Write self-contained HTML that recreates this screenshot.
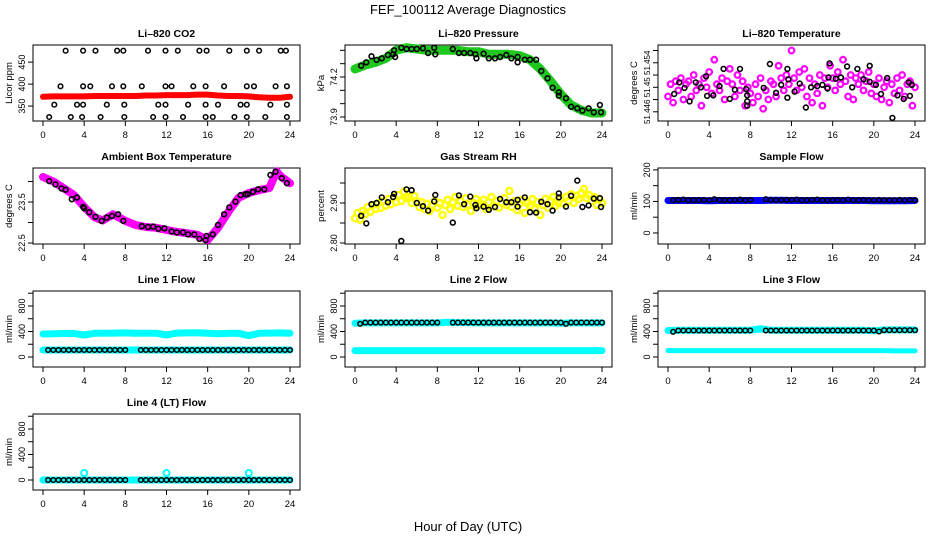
<!DOCTYPE html>
<html><head><meta charset="utf-8"><style>
html,body{margin:0;padding:0;background:#fff;}
svg{display:block;font-family:"Liberation Sans",sans-serif;}
</style></head><body>
<svg id="chart" width="936" height="540" viewBox="0 0 936 540">
<text x="468" y="14" text-anchor="middle" font-size="13">FEF_100112  Average Diagnostics</text>
<text x="468" y="531" text-anchor="middle" font-size="13">Hour of Day (UTC)</text>
</svg>
<script>
// ---------- data ----------
const hourTicks = [0,4,8,12,16,20,24];
const hourly = [0,1,2,3,4,5,6,7,8,9,10,11,12,13,14,15,16,17,18,19,20,21,22,23,24];

const co2Red = [371,372,372,372,372,373,373,373,373,373,374,374,375,375,375,376,376,374,373,373,372,370,369,369,371];
const co2BlackHours = [2.2,3.9,5.1,7.2,7.8,10.2,11.9,13.1,15.2,15.9,18.1,19.8,21.0,23.1,23.6,
 1.7,3.9,4.6,6.7,7.8,9.6,11.9,12.5,14.6,15.8,17.6,19.8,20.5,22.6,23.7,
 1.1,3.3,3.9,6.2,7.9,11.2,11.9,14.1,15.8,17.0,19.2,19.8,22.1,23.7,
 0.6,2.7,3.8,5.6,7.9,10.7,11.9,13.6,15.8,16.5,18.6,19.8,21.6,23.7];
const co2BlackVals = [476,476,476,476,476,476,476,476,476,476,476,476,476,476,476,
 395,395,395,395,395,395,395,395,395,395,395,395,395,395,395,
 353,353,353,353,353,353,353,353,353,353,353,353,353,353,
 325,325,325,325,325,325,325,325,325,325,325,325,325,325];

const presGreen = [74.26,74.29,74.31,74.34,74.40,74.42,74.41,74.40,74.40,74.40,74.40,74.39,74.39,74.37,74.37,74.37,74.36,74.33,74.26,74.17,74.07,73.99,73.95,73.93,73.93];
const presBlackHours = [0.6,1.1,1.6,2.1,2.6,3.2,3.7,3.8,3.9,4.5,5.0,5.5,6.0,6.6,7.1,7.7,7.8,9.5,10.1,10.6,11.2,11.7,11.8,12.5,13.0,13.6,14.1,14.7,15.2,15.8,15.8,16.5,17.0,17.6,18.1,18.7,19.2,19.8,19.8,20.5,21.0,21.6,22.1,22.7,23.2,23.8,23.9];
const presBlackVals = [74.285,74.31,74.355,74.328,74.34,74.365,74.37,74.40,74.35,74.42,74.41,74.41,74.41,74.415,74.38,74.42,74.37,74.41,74.38,74.38,74.38,74.37,74.34,74.375,74.34,74.34,74.35,74.365,74.34,74.35,74.31,74.33,74.33,74.33,74.245,74.19,74.12,74.085,74.06,74.04,73.977,73.965,73.948,73.965,73.935,73.99,73.935];

const tempHours = [];
for (let i = 0; i <= 96; i++) tempHours.push(i * 0.25);
const tempMagenta = [51.4485,51.4505,51.4475,51.451,51.4495,51.4515,51.448,51.4505,
 51.451,51.4485,51.452,51.4495,51.4505,51.447,51.4515,51.450,
 51.4525,51.449,51.4545,51.4505,51.4495,51.4515,51.448,51.451,
 51.453,51.4505,51.4485,51.452,51.4495,51.451,51.447,51.450,
 51.449,51.4475,51.4505,51.4485,51.4515,51.4465,51.4495,51.448,
 51.451,51.4505,51.4485,51.4535,51.4515,51.4495,51.452,51.4505,
 51.456,51.4515,51.4495,51.4525,51.450,51.453,51.4485,51.4515,
 51.4475,51.4505,51.449,51.452,51.447,51.4515,51.450,51.4535,
 51.4515,51.4495,51.4525,51.4505,51.4545,51.451,51.4485,51.452,
 51.448,51.4515,51.4505,51.452,51.4495,51.451,51.4525,51.449,
 51.4505,51.4485,51.4515,51.448,51.450,51.451,51.4475,51.4505,
 51.449,51.4515,51.4495,51.452,51.4485,51.4505,51.451,51.447,51.450];
const tempBlackHours = [0.6,1.1,1.6,2.1,2.7,3.2,3.7,3.8,4.4,5.0,5.4,6.0,6.5,7.0,7.6,7.7,7.7,7.7,9.3,9.9,10.5,11.0,11.6,11.6,11.7,12.3,12.8,13.4,13.9,14.5,15.0,15.5,15.7,15.6,16.3,16.8,17.4,17.9,18.4,19.0,19.6,19.6,20.2,20.7,21.3,21.8,22.3,22.9,23.4,23.5,23.7];
const tempBlackVals = [51.4489,51.4508,51.4499,51.4477,51.4508,51.4500,51.4518,51.4486,51.4487,51.4502,51.4530,51.4481,51.4496,51.4530,51.4497,51.4487,51.4477,51.4470,51.4499,51.4538,51.4491,51.4504,51.4483,51.4530,51.4513,51.4493,51.4506,51.4467,51.4500,51.4502,51.4504,51.4498,51.4539,51.4516,51.4514,51.4516,51.4534,51.4500,51.4530,51.4513,51.4509,51.4535,51.4504,51.4489,51.4515,51.4450,51.4487,51.4481,51.4508,51.4486,51.4504];

const ambHours = [0,1,2,3,4,5,5.8,6.8,8,9,10,11,12,13,14,15,16,17,18,19,20,21,22,22.7,23,24];
const ambMagenta = [24.11,24.0,23.84,23.67,23.38,23.13,23.05,23.2,23.04,22.94,22.89,22.87,22.82,22.77,22.74,22.70,22.57,22.87,23.26,23.6,23.72,23.79,23.84,24.25,24.15,23.96];
const ambBlackHours = [0.6,1.2,1.8,2.2,2.8,3.3,3.9,4.0,4.5,5.1,5.7,6.2,6.7,7.3,7.8,9.6,10.2,10.7,11.2,11.8,12.5,13.0,13.6,14.1,14.7,15.2,15.8,15.9,16.5,17.0,17.6,18.1,18.7,19.2,19.7,19.9,20.4,20.9,21.5,22.1,22.6,23.2,23.7];
const ambBlackVals = [24.01,23.93,23.83,23.80,23.57,23.61,23.38,23.35,23.25,23.14,23.04,23.12,23.16,23.20,23.04,22.91,22.89,22.90,22.85,22.86,22.78,22.76,22.76,22.71,22.71,22.60,22.57,22.67,22.71,22.94,23.20,23.37,23.51,23.67,23.69,23.69,23.75,23.81,23.81,24.16,24.24,24.08,23.96];

const rhYellow = [2.862,2.875,2.858,2.880,2.872,2.890,2.878,2.895,2.885,
 2.900,2.888,2.905,2.893,2.910,2.897,2.915,2.902,
 2.920,2.905,2.928,2.912,2.915,2.900,2.918,2.905,
 2.890,2.902,2.885,2.898,2.880,2.895,2.905,2.888,
 2.900,2.870,2.895,2.908,2.885,2.902,2.915,2.893,
 2.905,2.890,2.912,2.895,2.880,2.900,2.910,2.893,
 2.898,2.908,2.885,2.902,2.915,2.892,2.905,2.888,
 2.900,2.912,2.895,2.930,2.890,2.905,2.882,2.898,
 2.908,2.875,2.900,2.893,2.910,2.885,2.902,2.870,
 2.895,2.910,2.888,2.905,2.915,2.893,2.900,2.912,
 2.898,2.915,2.905,2.922,2.900,2.918,2.910,2.925,
 2.935,2.912,2.920,2.905,2.915,2.895,2.910,2.900];
const rhBlackHours = [0.6,1.1,1.6,2.1,2.6,3.2,3.7,3.8,5.0,5.5,6.0,6.6,7.1,7.7,7.8,9.5,10.1,10.6,11.2,11.7,11.8,12.5,13.0,13.6,14.1,14.7,15.2,15.8,15.8,16.5,17.0,17.6,18.1,18.7,19.2,19.8,19.8,20.5,21.0,21.6,22.1,22.7,23.2,23.8,23.9,4.5];
const rhBlackVals = [2.868,2.849,2.897,2.900,2.914,2.902,2.915,2.923,2.934,2.932,2.900,2.892,2.881,2.904,2.920,2.851,2.919,2.897,2.916,2.895,2.887,2.891,2.883,2.890,2.910,2.902,2.902,2.908,2.891,2.914,2.877,2.876,2.903,2.897,2.881,2.924,2.914,2.891,2.918,2.956,2.890,2.894,2.911,2.912,2.890,2.805];

const flowHours = [0.5,1,1.5,2,2.5,3,3.5,4,4.5,5,5.5,6,6.5,7,7.5,8,9.5,10,10.5,11,11.5,12,12.5,13,13.5,14,14.5,15,15.5,16,16.5,17,17.5,18,18.5,19,19.5,20,20.5,21,21.5,22,22.5,23,23.5,24];
const sampleBlue = [103,103,103,103,102,103,103,103,103,103,104,104,103,103,103,103,103,103,103,103,102,102,102,102,103];
const sampleBlack = [104,105,106,104,104,104,105,104,107,105,104,104,105,106,104,105,107,105,104,104,105,105,106,104,104,105,106,104,104,104,105,104,106,104,104,105,104,104,105,104,104,104,105,104,105,104];
const line1Upper = [360,365,368,370,345,372,372,375,378,373,372,373,345,375,378,380,372,365,370,372,335,372,375,378,373];
const line1Lower = [110,110,110,110,110,110,110,110,110,110,110,110,110,110,110,110,110,110,110,110,110,110,110,110,110];
const line1Black = [110,110,110,110,110,110,110,110,110,110,110,110,110,110,110,110,110,110,110,110,110,110,110,110,110,110,110,110,110,110,110,110,110,110,110,110,110,110,110,110,110,110,110,110,110,110];
const line2Upper = [530,535,535,535,535,535,535,535,535,545,540,540,535,535,535,535,535,535,535,535,530,535,535,535,535];
const line2Lower = [100,100,100,100,100,100,100,100,100,100,100,100,100,100,100,100,100,100,100,100,100,100,100,100,100];
const line2Black = [520,540,540,540,540,540,540,540,540,540,540,540,540,540,540,540,540,540,540,540,540,540,540,540,540,540,540,540,540,540,540,540,540,540,540,540,540,540,520,540,540,540,540,540,540,540];
const line3Upper = [415,420,420,420,420,420,420,420,420,440,420,420,420,420,420,420,420,420,420,420,410,425,425,425,425];
const line3Lower = [100,100,100,100,100,100,100,100,100,100,100,100,100,100,100,100,100,100,100,100,100,100,95,95,95];
const line3Black = [395,415,415,415,415,415,415,415,415,415,415,415,415,415,415,415,415,415,415,415,415,415,415,415,415,415,415,415,415,415,415,415,415,415,415,415,415,415,400,420,420,420,420,420,420,420];
const line4Cyan = [0,0,0,0,0,0,0,0,0,0,0,0,0,0,0,0,0,0,0,0,0,0,0,0,0];
const line4Black = [0,0,0,0,0,0,0,0,0,0,0,0,0,0,0,0,0,0,0,0,0,0,0,0,0,0,0,0,0,0,0,0,0,0,0,0,0,0,0,0,0,0,0,0,0,0];
const line4OutHours = [4,12,20];
const line4OutVals = [110,110,110];

// ---------- drawing ----------
const NS = 'http://www.w3.org/2000/svg';
const svg = document.getElementById('chart');
const COLS = [33,345,658], ROWS = [45,168,291,414], W = 267, H = 76;
const flowTicks = [0,200,400,600,800,1000], flowLabels = ['0','','400','','800',''];

function mk(tag, attrs, parent) {
  const e = document.createElementNS(NS, tag);
  for (const k in attrs) e.setAttribute(k, attrs[k]);
  (parent || svg).appendChild(e);
  return e;
}

function panel(key, title, col, row, dom, ticks, labels, ylab, tickFont) {
  const left = COLS[col], top = ROWS[row], bottom = top + H;
  const g = mk('g', {});
  
  
  const xs = h => left + 10 + h * (W - 20) / 24;
  const ys = v => bottom - (v - dom[0]) / (dom[1] - dom[0]) * H;
  const t = mk('text', {x: left + W / 2, y: top - 8, 'text-anchor': 'middle', 'font-size': 10.5, 'font-weight': 'bold'}, g);
  t.textContent = title;
  
  
  const box = mk('rect', {x: left, y: top, width: W, height: H, fill: 'none', stroke: '#000', 'stroke-width': 1}, g);
  
  
  const xa = mk('g', {}, g);
  
  
  hourTicks.forEach(h => {
    mk('line', {x1: xs(h), x2: xs(h), y1: bottom, y2: bottom + 5, stroke: '#000'}, xa);
    const l = mk('text', {x: xs(h), y: bottom + 17, 'text-anchor': 'middle', 'font-size': 9.5}, xa);
    l.textContent = h;
  });
  const ya = mk('g', {}, g);
  
  
  ticks.forEach((v, i) => {
    mk('line', {x1: left - 5, x2: left, y1: ys(v), y2: ys(v), stroke: '#000'}, ya);
    if (labels[i]) {
      const l = mk('text', {x: left - 8, y: ys(v), 'text-anchor': 'middle', 'font-size': tickFont || 9, transform: `rotate(-90 ${left - 8} ${ys(v)})`}, ya);
      l.textContent = labels[i];
    }
  });
  const yt = mk('text', {x: left - 21, y: top + H / 2, 'text-anchor': 'middle', 'font-size': 9.5, transform: `rotate(-90 ${left - 21} ${top + H / 2})`}, g);
  yt.textContent = ylab;
  
  
  const marks = mk('g', {}, g);
  
  
  return {
    band(hours, vals, color, width) {
      const pts = hours.map((h, i) => xs(h).toFixed(1) + ',' + ys(vals[i]).toFixed(1)).join(' ');
      const p = mk('polyline', {points: pts, fill: 'none', stroke: color, 'stroke-width': width, 'stroke-linejoin': 'round', 'stroke-linecap': 'round'}, marks);
      
      
    },
    pts(hours, vals, color, r, sw) {
      hours.forEach((h, i) => {
        const c = mk('circle', {cx: xs(h).toFixed(1), cy: ys(vals[i]).toFixed(1), r: r, fill: 'none', stroke: color, 'stroke-width': sw}, marks);
        
        
      });
    }
  };
}

let p;
p = panel('co2', 'Li–820 CO2', 0, 0, [316, 489], [350, 400, 450], ['350', '400', '450'], 'Licor ppm');
p.band(hourly, co2Red, '#ff0000', 6);
p.pts(co2BlackHours, co2BlackVals, '#000', 2.3, 1.5);

p = panel('pressure', 'Li–820 Pressure', 1, 0, [73.87, 74.44], [73.9, 74.0, 74.1, 74.2, 74.3, 74.4], ['73.9', '', '', '74.2', '', ''], 'kPa');
p.band(hourly, presGreen, '#1fc81f', 9);
p.pts(presBlackHours, presBlackVals, '#000', 2.4, 1.6);

p = panel('temp820', 'Li–820 Temperature', 2, 0, [51.4445, 51.4569], [51.446, 51.448, 51.450, 51.452, 51.454, 51.456], ['51.446', '', '51.45', '', '51.454', ''], 'degrees C', 8);
p.pts(tempHours, tempMagenta, '#ff00ff', 2.8, 2.2);
p.pts(tempBlackHours, tempBlackVals, '#000', 2.4, 1.6);

p = panel('ambient', 'Ambient Box Temperature', 0, 1, [22.476, 24.33], [22.5, 23, 23.5, 24], ['22.5', '', '23.5', ''], 'degrees C');
p.band(ambHours, ambMagenta, '#ff00ff', 8);
p.pts(ambBlackHours, ambBlackVals, '#000', 2.4, 1.6);

p = panel('rh', 'Gas Stream RH', 1, 1, [2.7975, 2.9875], [2.80, 2.85, 2.90, 2.95], ['2.80', '', '2.90', ''], 'percent');
p.pts(tempHours, rhYellow, '#ffff00', 3, 2.4);
p.pts(rhBlackHours, rhBlackVals, '#000', 2.4, 1.6);

p = panel('sample-flow', 'Sample Flow', 2, 1, [-35, 206], [0, 50, 100, 150, 200], ['0', '', '100', '', '200'], 'ml/min');
p.band(hourly, sampleBlue, '#0000ff', 7);
p.pts(flowHours, sampleBlack, '#000', 2.3, 1.5);

p = panel('line1-flow', 'Line 1 Flow', 0, 2, [-157, 1035], flowTicks, flowLabels, 'ml/min');
p.band(hourly, line1Upper, '#00ffff', 7);
p.band(hourly, line1Lower, '#00ffff', 7);
p.pts(flowHours, line1Black, '#000', 2.3, 1.5);

p = panel('line2-flow', 'Line 2 Flow', 1, 2, [-157, 1035], flowTicks, flowLabels, 'ml/min');
p.band(hourly, line2Upper, '#00ffff', 7);
p.band(hourly, line2Lower, '#00ffff', 7);
p.pts(flowHours, line2Black, '#000', 2.3, 1.5);

p = panel('line3-flow', 'Line 3 Flow', 2, 2, [-157, 1035], flowTicks, flowLabels, 'ml/min');
p.band(hourly, line3Upper, '#00ffff', 7);
p.band(hourly, line3Lower, '#00ffff', 5);
p.pts(flowHours, line3Black, '#000', 2.3, 1.5);

p = panel('line4-flow', 'Line 4 (LT) Flow', 0, 3, [-157, 1035], flowTicks, flowLabels, 'ml/min');
p.band(hourly, line4Cyan, '#00ffff', 7);
p.pts(line4OutHours, line4OutVals, '#00ffff', 3, 2);
p.pts(flowHours, line4Black, '#000', 2.3, 1.5);
</script>
</body></html>
